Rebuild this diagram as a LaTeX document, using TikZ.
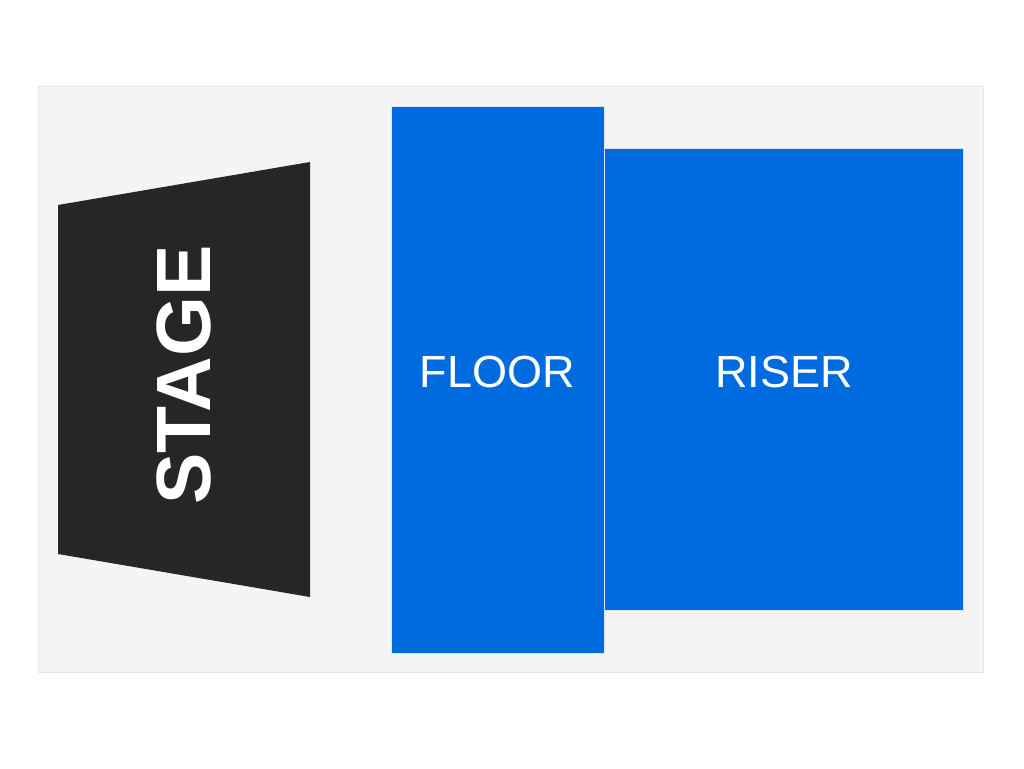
\documentclass[tikz,border=0pt]{standalone}
\usepackage{fontspec}
\setmainfont{Liberation Sans}
\definecolor{bgpanel}{HTML}{F4F4F4}
\definecolor{bgedge}{HTML}{E6E6E6}
\definecolor{stagefill}{HTML}{262626}
\definecolor{zoneblue}{HTML}{006BDE}
\definecolor{zoneedge}{HTML}{DCE6F2}
\tikzset{
  zone/.style={fill=zoneblue, draw=zoneedge, line width=1pt},
  zonelabel/.style={text=white, font=\fontsize{45}{45}\selectfont, inner sep=0pt, anchor=center},
}
\begin{document}
\begin{tikzpicture}[x=1pt,y=-1pt]
\useasboundingbox (0,0) rectangle (1024,768);
\fill[white] (0,0) rectangle (1024,768);
\draw[fill=bgpanel, draw=bgedge, line width=1pt] (38.5,86.5) rectangle (983.5,672.5);
% stage
\fill[stagefill] (58,205) -- (310,162) -- (310,597) -- (58,554) -- cycle;
\node[text=white, rotate=90, inner sep=0pt, font=\bfseries\fontsize{77}{77}\selectfont] (stage) at (184,375) {STAGE};
% floor and riser
\draw[zone] (391.5,106.5) rectangle (604,653);
\draw[zone] (604,148.5) rectangle (963.5,610.5);
\node[zonelabel] (floor) at (497.5,372.5) {FLOOR};
\node[zonelabel] (riser) at (784,372.5) {RISER};
\end{tikzpicture}
\end{document}
